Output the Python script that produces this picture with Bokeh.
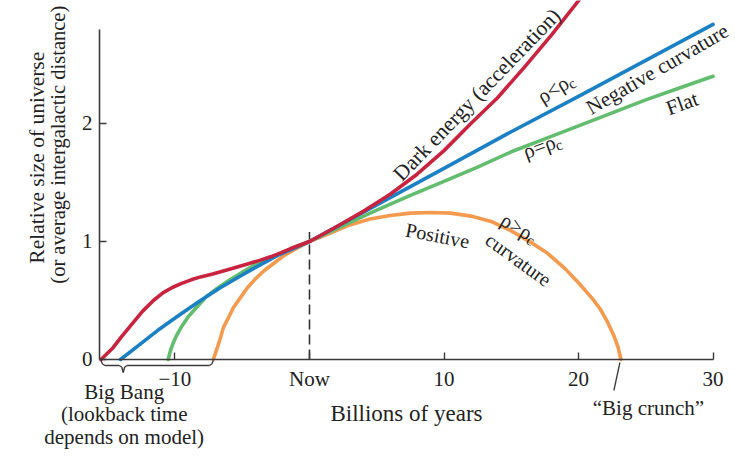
import math
from bokeh.plotting import figure
from bokeh.models import Range1d, Label, Arrow, ColumnDataSource, FixedTicker
from bokeh.embed import file_html
from bokeh.resources import INLINE

# ---------------- data ----------------
# time in billions of years relative to now, relative size of universe
red_t = [-15.5, -14.6, -14.0, -13.2, -12.4, -11.6, -10.9, -10.2, -9.5, -8.8, -8.1,
         -7.2, -6.4, -5.5, -4.6, -3.7, -2.9, -2.1, -1.4, -0.7, 0.0,
         2.0, 4.0, 6.0, 8.0, 10.0, 12.0, 14.0, 16.0, 18.0, 20.0, 21.0]
red_s = [0.0, 0.10, 0.19, 0.30, 0.41, 0.50, 0.565, 0.61, 0.645, 0.675, 0.70,
         0.725, 0.75, 0.78, 0.81, 0.84, 0.87, 0.905, 0.94, 0.97, 1.0,
         1.125, 1.255, 1.40, 1.57, 1.77, 2.00, 2.22, 2.48, 2.75, 3.04, 3.20]

blue_t = [-14.05, -12.7, -11.3, -9.7, -8.1, -6.6, -5.1, -3.7, -2.4, -1.2, 0.0,
          5.0, 10.0, 15.0, 20.0, 25.0, 30.0]
blue_s = [0.0, 0.12, 0.245, 0.375, 0.50, 0.61, 0.71, 0.80, 0.88, 0.94, 1.0,
          1.31, 1.62, 1.93, 2.23, 2.535, 2.84]

green_t = [-10.5, -10.4, -10.2, -9.9, -9.5, -9.0, -8.4, -7.7, -6.9, -6.0, -5.0,
           -4.0, -3.0, -2.0, -1.0, 0.0, 2.5, 5.0, 7.5, 10.0, 12.5, 15.0, 17.5,
           20.0, 22.5, 25.0, 27.5, 30.0]
green_s = [0.0, 0.05, 0.12, 0.20, 0.28, 0.365, 0.44, 0.53, 0.60, 0.67, 0.74,
           0.805, 0.86, 0.905, 0.955, 1.0, 1.135, 1.265, 1.39, 1.51, 1.63, 1.76,
           1.87, 1.98, 2.09, 2.20, 2.30, 2.40]

orange_t = [-7.15, -7.0, -6.85, -6.6, -6.4, -6.0, -5.65, -5.1, -4.6, -4.0, -3.4,
            -2.6, -1.9, -0.9, 0.0, 1.5, 3.0, 4.5, 6.0, 7.5, 9.0, 10.5, 12.0,
            13.5, 15.0, 16.5, 17.7, 19.0, 20.0, 21.0, 21.6, 22.1, 22.6, 22.95, 23.15]
orange_s = [0.0, 0.05, 0.10, 0.19, 0.27, 0.36, 0.44, 0.53, 0.61, 0.685, 0.75,
            0.82, 0.88, 0.945, 1.0, 1.07, 1.14, 1.19, 1.22, 1.24, 1.245, 1.24, 1.215,
            1.17, 1.09, 0.99, 0.90, 0.77, 0.65, 0.52, 0.43, 0.33, 0.21, 0.10, 0.0]

x_ticks = [-10, 0, 10, 20, 30]
x_tick_labels = ["\u221210", "Now", "10", "20", "30"]
y_ticks = [0, 1, 2]
x_axis_start = -15.61
y_axis_top = 2.8
now_t = 0.0
now_dash_top = 1.08

# ---------------- layout ----------------
FONT = "Liberation Serif"
TXT = "#222222"
W, H = 735, 458
X0, X1 = -22.97, 31.67
Y0, Y1 = -0.839, 3.042
SX = W / (X1 - X0)   # px per data unit in x
SY = H / (Y1 - Y0)   # px per data unit in y


def dx(px):
    return px / SX


def dy(px):
    return px / SY


p = figure(width=W, height=H, x_range=Range1d(X0, X1), y_range=Range1d(Y0, Y1),
           output_backend="svg", toolbar_location=None,
           min_border_left=0, min_border_right=0, min_border_top=0,
           min_border_bottom=0)
p.outline_line_color = None
p.grid.visible = False
p.background_fill_color = "white"
p.border_fill_color = "white"

xa = p.xaxis[0]
xa.fixed_location = 0
xa.ticker = FixedTicker(ticks=x_ticks)
xa.major_label_overrides = {t: l for t, l in zip(x_ticks, x_tick_labels)}
xa.bounds = (x_axis_start, x_ticks[-1])
xa.axis_line_color = "#3a3a3a"
xa.axis_line_width = 1.6
xa.major_tick_line_color = "#3a3a3a"
xa.major_tick_line_width = 1.4
xa.major_tick_in = 7
xa.major_tick_out = 0
xa.minor_tick_line_color = None
xa.major_label_text_font = FONT
xa.major_label_text_font_size = "21px"
xa.major_label_text_color = TXT
xa.major_label_standoff = 8
xa.axis_label = "Billions of years"
xa.axis_label_text_font = FONT
xa.axis_label_text_font_size = "23px"
xa.axis_label_text_font_style = "normal"
xa.axis_label_text_color = TXT
xa.axis_label_standoff = 6

ya = p.yaxis[0]
ya.fixed_location = x_axis_start
ya.ticker = FixedTicker(ticks=y_ticks)
ya.bounds = (0, y_axis_top)
ya.axis_line_color = "#3a3a3a"
ya.axis_line_width = 1.6
ya.major_tick_line_color = "#3a3a3a"
ya.major_tick_line_width = 1.4
ya.major_tick_in = 7
ya.major_tick_out = 0
ya.minor_tick_line_color = None
ya.major_label_text_font = FONT
ya.major_label_text_font_size = "21px"
ya.major_label_text_color = TXT
ya.major_label_standoff = 7

# ---------------- curves ----------------
LW = 3.6
p.segment(x0=[now_t], y0=[0], x1=[now_t], y1=[now_dash_top], line_color="#333333",
          line_width=1.6, line_dash="10 5")
p.line(orange_t, orange_s, line_color="#f39a4f", line_width=LW, line_cap="round", line_join="round")
p.line(green_t, green_s, line_color="#62bd6e", line_width=LW, line_cap="round", line_join="round")
p.line(blue_t, blue_s, line_color="#1b80c4", line_width=LW, line_cap="round", line_join="round")
p.line(red_t, red_s, line_color="#c8243f", line_width=LW, line_cap="round", line_join="round")


def label(text, x, y, angle=0, size="21px", align="center", baseline="middle"):
    p.add_layout(Label(x=x, y=y, text=text, angle=angle, angle_units="deg",
                       text_align=align, text_baseline=baseline, text_font=FONT,
                       text_font_size=size, text_color=TXT))


def rho_label(main, cx, cy, ang):
    th = math.radians(ang)

    def off(a, b):
        sx_ = a * math.cos(th) + b * math.sin(th)
        sy_down = -a * math.sin(th) + b * math.cos(th)
        return cx + dx(sx_), cy - dy(sy_down)

    x1, y1 = off(-3, 0)
    x2, y2 = off(16, 5)
    label(main, x1, y1, ang)
    label("c", x2, y2, ang, size="15px")


# curve annotations
label("Dark energy (acceleration)", 12.45, 2.245, 46, size="21.5px")
label("Negative curvature", 25.85, 2.46, 30, size="21px")
label("Flat", 27.7, 2.17, 20)
rho_label("\u03c1<\u03c1", 18.3, 2.30, 32)
rho_label("\u03c1=\u03c1", 17.3, 1.81, 20)
rho_label("\u03c1>\u03c1", 15.6, 1.115, -30)
label("Positive", 9.52, 1.051, -11, size="20px")
label("curvature", 15.54, 0.847, -36, size="20px")

# y title (two lines)
label("Relative size of universe", -20.22, 1.71, 90, size="21.5px")
label("(or average intergalactic distance)", -18.66, 1.82, 90, size="20.5px")

# Big Bang brace
L = red_t[0]
R = orange_t[0]
M = -13.85
brace = [(L, -dy(1)), (L + dx(1.5), -dy(4.5)), (L + dx(4), -dy(6)), (M - dx(4), -dy(6)),
         (M - dx(1.5), -dy(7.5)), (M, -dy(13)), (M + dx(1.5), -dy(7.5)), (M + dx(4), -dy(6)),
         (R - dx(4), -dy(6)), (R - dx(1.5), -dy(4.5)), (R, -dy(1))]
seg = ColumnDataSource(dict(
    x0=[a[0] for a in brace[:-1]], y0=[a[1] for a in brace[:-1]],
    x1=[a[0] for a in brace[1:]], y1=[a[1] for a in brace[1:]]))
p.add_layout(Arrow(end=None, x_start="x0", y_start="y0", x_end="x1", y_end="y1",
                   source=seg, line_color="#3a3a3a", line_width=1.4))

label("Big Bang", M + dx(1), -dy(33))
label("(lookback time", M + dx(1), -dy(55))
label("depends on model)", M + dx(1), -dy(78))

# Big crunch pointer
C = orange_t[-1]
p.add_layout(Arrow(end=None, x_start=C - dx(1), y_start=-dy(3), x_end=C - dx(7),
                   y_end=-dy(31), line_color="#3a3a3a", line_width=1.3))
label("\u201cBig crunch\u201d", 25.2, -0.415)

open("out.html", "w").write(file_html(p, INLINE))
